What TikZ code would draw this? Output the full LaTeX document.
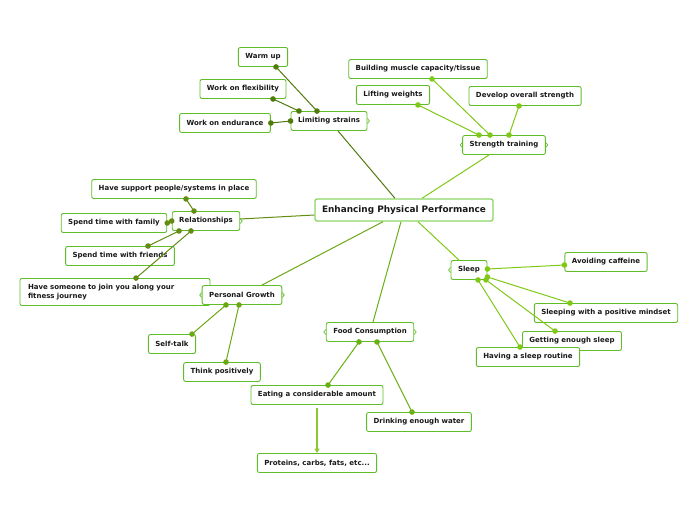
\documentclass[tikz,border=0pt]{standalone}
\usepackage{fontspec}
\setmainfont{DejaVu Sans}
\usepackage{tikz}
\usetikzlibrary{arrows.meta}

\definecolor{boxline}{RGB}{95,190,40}
\definecolor{mainline}{RGB}{140,215,100}
\definecolor{textdark}{RGB}{25,25,25}
\definecolor{cstrain}{RGB}{80,122,12}
\definecolor{crel}{RGB}{100,140,18}
\definecolor{cgrow}{RGB}{108,168,20}
\definecolor{cfood}{RGB}{104,176,20}
\definecolor{clime}{RGB}{128,200,22}
\definecolor{carrow}{RGB}{140,200,50}

\begin{document}
\begin{tikzpicture}[x=1pt,y=-1pt,
  topic/.style={draw=boxline, line width=0.9pt, rounded corners=2pt, fill=white,
    text=textdark, font=\bfseries\fontsize{7}{8.5}\selectfont,
    minimum height=19pt, inner xsep=7pt},
  maintopic/.style={topic, draw=mainline, line width=1.4pt,
    font=\bfseries\fontsize{8.9}{10}\selectfont, minimum height=22pt, inner xsep=7pt},
  branch/.style={line width=1pt},
  link/.style={line width=1pt, {Circle[length=5.5pt]}-{Circle[length=5.5pt]},
    shorten <=-2.75pt, shorten >=-2.75pt},
  fold/.style={draw=boxline, line width=0.7pt}]
  \useasboundingbox (0,0) rectangle (697,520);

  % main topic
  \node[maintopic] (main) at (404,210) {Enhancing Physical Performance};

  % branches
  \node[topic] (ls) at (329,121) {Limiting strains};
  \node[topic] (st) at (504,145) {Strength training};
  \node[topic] (rel) at (206,221) {Relationships};
  \node[topic, align=left, text width=174pt, minimum height=27pt, inner xsep=8pt]
    (join) at (115,292) {Have someone to join you along your\\fitness journey};
  \node[topic] (pg) at (242,295) {Personal Growth};
  \node[topic] (food) at (370,332) {Food Consumption};
  \node[topic] (sleep) at (469,270) {Sleep};

  \draw[branch, cstrain] ([xshift=-9pt]main.north) -- ([xshift=9pt]ls.south);
  \draw[branch, clime] ([xshift=18pt]main.north) -- ([xshift=-15pt]st.south);
  \draw[branch, crel] ([yshift=-5pt]main.west) -- ([yshift=2pt]rel.east);
  \draw[branch, cgrow] ([xshift=-21pt]main.south) -- ([xshift=20pt]pg.north);
  \draw[branch, cfood] ([xshift=-3pt]main.south) -- ([xshift=3pt]food.north);
  \draw[branch, clime] ([xshift=14pt]main.south) -- ([xshift=-10pt]sleep.north);

  % limiting strains
  \node[topic] (wu) at (263,57) {Warm up};
  \node[topic] (wf) at (243,89) {Work on flexibility};
  \node[topic] (we) at (225,123) {Work on endurance};
  \draw[link, cstrain] ([xshift=-12pt]ls.north) -- ([xshift=13pt]wu.south);
  \draw[link, cstrain] ([xshift=-30pt]ls.north) -- ([xshift=30pt]wf.south);
  \draw[link, cstrain] (ls.west) -- (we.east);

  % strength training
  \node[topic] (bm) at (418,69) {Building muscle capacity/tissue};
  \node[topic] (lw) at (393,95) {Lifting weights};
  \node[topic] (dos) at (525,96) {Develop overall strength};
  \draw[link, clime] ([xshift=-14pt]st.north) -- ([xshift=14pt]bm.south);
  \draw[link, clime] ([xshift=-25pt]st.north) -- ([xshift=25pt]lw.south);
  \draw[link, clime] ([xshift=5pt]st.north) -- ([xshift=-6pt]dos.south);

  % relationships
  \node[topic] (sup) at (174,189) {Have support people/systems in place};
  \node[topic] (fam) at (114,223) {Spend time with family};
  \node[topic] (fri) at (120,256) {Spend time with friends};
  \draw[link, crel] ([xshift=-12pt]rel.north) -- ([xshift=12pt]sup.south);
  \draw[link, crel] (rel.west) -- (fam.east);
  \draw[link, crel] ([xshift=-27pt]rel.south) -- ([xshift=28pt]fri.north);
  \draw[link, crel] ([xshift=-15pt]rel.south) -- ([xshift=21pt]join.north);

  % personal growth
  \node[topic] (self) at (172,344) {Self-talk};
  \node[topic] (think) at (222,372) {Think positively};
  \draw[link, cgrow] ([xshift=-16pt]pg.south) -- ([xshift=20pt]self.north);
  \draw[link, cgrow] ([xshift=-3pt]pg.south) -- ([xshift=4pt]think.north);

  % food consumption
  \node[topic] (eat) at (317,395) {Eating a considerable amount};
  \node[topic] (drink) at (419,422) {Drinking enough water};
  \node[topic] (prot) at (317,463) {Proteins, carbs, fats, etc...};
  \draw[link, cfood] ([xshift=-11pt]food.south) -- ([xshift=11pt]eat.north);
  \draw[link, cfood] ([xshift=7pt]food.south) -- ([xshift=-7pt]drink.north);
  \draw[line width=1.2pt, carrow, -{Triangle[length=4.5pt,width=5pt]}]
    ([yshift=-3pt]eat.south) -- (prot.north);

  % sleep
  \node[topic] (caf) at (606,262) {Avoiding caffeine};
  \node[topic] (mind) at (606,313) {Sleeping with a positive mindset};
  \node[topic] (enough) at (572,341) {Getting enough sleep};
  \node[topic] (routine) at (528,357) {Having a sleep routine};
  \draw[link, clime] ([yshift=1pt]sleep.east) -- ([yshift=-3pt]caf.west);
  \draw[link, clime] ([yshift=-7pt]sleep.east) -- ([xshift=-36pt]mind.north);
  \draw[link, clime] ([xshift=17pt]sleep.south) -- ([xshift=-17pt]enough.north);
  \draw[link, clime] ([xshift=9pt]sleep.south) -- ([xshift=-8pt]routine.north);

  % fold marks
  \foreach \n in {ls, st, rel, pg, food}
    \draw[fold] (\n.east) +(0,-2.5) -- +(2,0) -- +(0,2.5);
  \foreach \n in {st, pg, food, sleep}
    \draw[fold] (\n.west) +(0,-2.5) -- +(-2,0) -- +(0,2.5);
\end{tikzpicture}
\end{document}
